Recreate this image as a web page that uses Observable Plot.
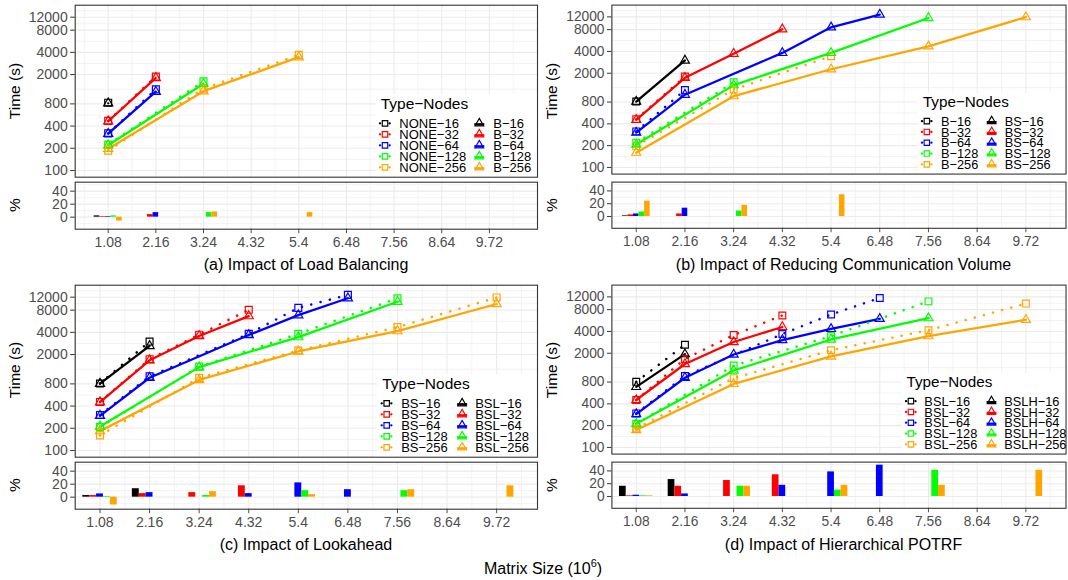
<!DOCTYPE html>
<html>
<head>
<meta charset="utf-8">
<script src="https://cdn.jsdelivr.net/npm/d3@7"></script>
<script src="https://cdn.jsdelivr.net/npm/@observablehq/plot@0.6"></script>
<style>
  html, body { margin: 0; padding: 0; background: #ffffff; }
  #root { position: relative; width: 1068px; height: 580px; overflow: hidden; font-family: "Liberation Sans", Arial, sans-serif; }
  .abs { position: absolute; }
  .lbl { position: absolute; white-space: nowrap; color: #000; transform: translate(-50%, -50%); }
  .rot { transform: translate(-50%, -50%) rotate(-90deg); }
</style>
</head>
<body>
<div id="root"></div>
<script>
// ---------------- data ----------------
const sizes = [1.08, 2.16, 3.24, 4.32, 5.4, 6.48, 7.56, 8.64, 9.72];
const sizeLabels = ["1.08", "2.16", "3.24", "4.32", "5.4", "6.48", "7.56", "8.64", "9.72"];
const nodes = [16, 32, 64, 128, 256];
const timeTicks = [100, 200, 400, 800, 2000, 4000, 8000, 12000];
const pctTicks = [0, 20, 40];

// execution time (s): rows = nodes (16..256), columns = matrix sizes; null = not run
const timeNONE = [
  [830],
  [470, 1880],
  [318, 1260],
  [225, null, 1620],
  [186, null, 1290, null, 3700]
];
const timeB = [
  [815],
  [465, 1800],
  [315, 1170],
  [220, null, 1500],
  [197, null, 1190, null, 3440]
];
const timeBS = [
  [810, 3000],
  [455, 1730, 3720, 8100],
  [303, 1010, null, 3820, 8600, 12900],
  [207, null, 1370, null, 3820, null, 11600],
  [160, null, 965, null, 2270, null, 4710, null, 11900]
];
const timeBSL = [
  [805, 2620],
  [452, 1670, 3570, 6650],
  [295, 970, null, 3680, 6850, 11600],
  [212, null, 1350, null, 3450, null, 10400],
  [183, null, 905, null, 2200, null, 4160, null, 9700]
];
const timeBSLH = [
  [686, 1943],
  [452, 1420, 2855, 4610],
  [289, 918, 1920, 3040, 4335, 5980],
  [212, null, 1154, null, 3100, null, 6100],
  [174, null, 754, null, 1805, null, 3444, null, 5800]
];

// improvement (%): rows = nodes, columns = matrix sizes
const pctLB = [
  [2],
  [1, 4],
  [1, 7],
  [2, null, 7],
  [-6, null, 8, null, 7]
];
const pctBS = [
  [1],
  [2.5, 4],
  [4, 13],
  [7, null, 8.5],
  [24, null, 17.5, null, 34]
];
const pctBSL = [
  [2.5, 13],
  [2.5, 5.5, 7, 17.5],
  [5, 7, null, 5.5, 22, 11.5],
  [1, null, 2.5, null, 10, null, 10],
  [-12, null, 8.5, null, 4, null, 11.5, null, 17.5]
];
const pctBSLH = [
  [16, 26.5],
  [1, 16, 25, 34],
  [2, 4, null, 17.5, 38.5, 49],
  [1, null, 16, null, 10, null, 41],
  [1, null, 16, null, 17.5, null, 17.5, null, 41]
];

const captions = [
  "(a) Impact of Load Balancing",
  "(b) Impact of Reducing Communication Volume",
  "(c) Impact of Lookahead",
  "(d) Impact of Hierarchical POTRF"
];
const typePairs = [["NONE", "B"], ["B", "BS"], ["BS", "BSL"], ["BSL", "BSLH"]];
const legendTitle = "Type\u2212Nodes";
const xTitle = "Matrix Size (10";
const yTitleTop = "Time (s)";
const yTitleBottom = "%";

// ---------------- style / layout ----------------
const FONT = '"Liberation Sans", Arial, sans-serif';
const colors = ["#000000", "#FF0000", "#0000FF", "#00FF00", "#FFA500"];
const GRID = "#EBEBEB";
const BORDER = "#333333";
const TICKTXT = "#4D4D4D";

const panels = [
  {time1: timeNONE, time2: timeB, pct: pctLB, col: 0, row: 0, xdom: [0.332, 10.81], barW: 0.127,
   leg: {title: 380.7, k1: 385, l1: 399.3, k2: 479.3, l2: 493.3}},
  {time1: timeB, time2: timeBS, pct: pctBS, col: 1, row: 0, xdom: [0.54, 10.61], barW: 0.123,
   leg: {title: 391.8, k1: 395.8, l1: 410.2, k2: 461.8, l2: 475.2}},
  {time1: timeBS, time2: timeBSL, pct: pctBSL, col: 0, row: 1, xdom: [0.54, 10.61], barW: 0.15,
   leg: {title: 382.2, k1: 386.7, l1: 401.2, k2: 462.1, l2: 475.2}},
  {time1: timeBSL, time2: timeBSLH, pct: pctBSLH, col: 1, row: 1, xdom: [0.54, 10.61], barW: 0.149,
   leg: {title: 375.1, k1: 379.6, l1: 393.3, k2: 461.6, l2: 474.7}}
];

const root = document.getElementById("root");

function flatten(matrix) {
  const out = [];
  matrix.forEach((row, i) => row.forEach((v, j) => {
    if (v != null) out.push({x: sizes[j], v, i});
  }));
  return out;
}

// minor grid (midpoints between majors, in transformed space)
const minorT = [];
for (let k = 0; k < timeTicks.length - 1; k++) minorT.push(Math.sqrt(timeTicks[k] * timeTicks[k + 1]));
minorT.push(timeTicks[timeTicks.length - 1] * Math.sqrt(timeTicks[timeTicks.length - 1] / timeTicks[timeTicks.length - 2]));
const minorX = [sizes[0] / 2, ...sizes.map(s => s + (sizes[1] - sizes[0]) / 2)];
const minorP = [-10, 10, 30, 50];

const W = 540, ML = 74.7, MR = 3;

function place(el, left, top) {
  const d = document.createElement("div");
  d.className = "abs";
  d.style.left = left + "px";
  d.style.top = top + "px";
  d.appendChild(el);
  root.appendChild(d);
}
function label(text, x, y, size, rotate, html) {
  const d = document.createElement("div");
  d.className = "lbl" + (rotate ? " rot" : "");
  d.style.left = x + "px";
  d.style.top = y + "px";
  d.style.fontSize = size + "px";
  if (html) d.innerHTML = html; else d.textContent = text;
  root.appendChild(d);
}

// y tick labels as a text mark (avoids log-format label thinning)
function yTickLabels(ticks) {
  return Plot.text(ticks, {y: d => d, text: d => String(d), frameAnchor: "left", textAnchor: "end",
    dx: -7.5, fill: TICKTXT, fontSize: 14});
}

panels.forEach((p, pi) => {
  const ox = p.col * 537.5, oy = p.row * 279.5;
  const s1 = flatten(p.time1), s2 = flatten(p.time2), bars = flatten(p.pct);
  const inX = v => v >= p.xdom[0] && v <= p.xdom[1];

  const top = Plot.plot({
    width: W, height: 180,
    marginLeft: ML, marginRight: MR, marginTop: 4.7, marginBottom: 3.3,
    style: {fontFamily: FONT, fontSize: "14px", background: "transparent", overflow: "visible"},
    x: {domain: p.xdom, axis: null},
    y: {type: "log", domain: [81, 17450]},
    marks: [
      Plot.ruleY(minorT, {stroke: GRID, strokeWidth: 0.6}),
      Plot.ruleY(timeTicks, {stroke: GRID, strokeWidth: 1.1}),
      Plot.ruleX(minorX.filter(inX), {stroke: GRID, strokeWidth: 0.6}),
      Plot.ruleX(sizes.filter(inX), {stroke: GRID, strokeWidth: 1.1}),
      Plot.line(s2, {x: "x", y: "v", z: "i", stroke: d => colors[d.i], strokeWidth: 2.3}),
      Plot.line(s1, {x: "x", y: "v", z: "i", stroke: d => colors[d.i], strokeWidth: 2.5,
        strokeDasharray: "0.1,9.5", strokeLinecap: "round"}),
      Plot.dot(s1, {x: "x", y: "v", symbol: "square", r: 3.9, stroke: d => colors[d.i], fill: "none", strokeWidth: 1.2}),
      Plot.dot(s2, {x: "x", y: "v", symbol: "triangle", r: 3.4, stroke: d => colors[d.i], fill: "none", strokeWidth: 1.2}),
      Plot.axisY({ticks: timeTicks, tickFormat: () => "", tickSize: 4.5, tickPadding: 3,
        color: BORDER, label: null}),
      yTickLabels(timeTicks),
      Plot.frame({stroke: BORDER, strokeWidth: 1.1})
    ]
  });

  // legend (inside the panel, white key box)
  const lg = d3.select(top).append("g").attr("font-family", FONT).attr("text-anchor", "start");
  const ty = 103.8;
  lg.append("rect").attr("x", p.leg.title - 5).attr("y", ty - 9.5)
    .attr("width", W - MR - 0.6 - (p.leg.title - 5)).attr("height", 176.7 - 0.6 - (ty - 9.5))
    .attr("fill", "#ffffff");
  lg.append("text").attr("x", p.leg.title).attr("y", ty).attr("dy", "0.36em")
    .attr("font-size", 15.5).attr("fill", "#000").text(legendTitle);
  nodes.forEach((n, i) => {
    const ry = ty + 19.5 + 11 * i;
    // type 1: square + dotted line
    lg.append("line").attr("x1", p.leg.k1 - 5).attr("x2", p.leg.k1 + 5).attr("y1", ry).attr("y2", ry)
      .attr("stroke", colors[i]).attr("stroke-width", 2.3).attr("stroke-dasharray", "0.1,9.5").attr("stroke-linecap", "round");
    lg.append("path").attr("d", d3.symbol(d3.symbolSquare, 30)()).attr("transform", `translate(${p.leg.k1},${ry})`)
      .attr("fill", "none").attr("stroke", colors[i]).attr("stroke-width", 1.2);
    lg.append("text").attr("x", p.leg.l1).attr("y", ry).attr("dy", "0.36em").attr("font-size", 13)
      .attr("fill", "#000").text(typePairs[pi][0] + "\u2212" + n);
    // type 2: triangle + solid line
    lg.append("line").attr("x1", p.leg.k2 - 5).attr("x2", p.leg.k2 + 5).attr("y1", ry + 1).attr("y2", ry + 1)
      .attr("stroke", colors[i]).attr("stroke-width", 2.3);
    lg.append("path").attr("d", d3.symbol(d3.symbolTriangle, 32)()).attr("transform", `translate(${p.leg.k2},${ry})`)
      .attr("fill", "none").attr("stroke", colors[i]).attr("stroke-width", 1.2);
    lg.append("text").attr("x", p.leg.l2).attr("y", ry).attr("dy", "0.36em").attr("font-size", 13)
      .attr("fill", "#000").text(typePairs[pi][1] + "\u2212" + n);
  });

  place(top, ox, oy);

  const bot = Plot.plot({
    width: W, height: 80,
    marginLeft: ML, marginRight: MR, marginTop: 3.7, marginBottom: 29.3,
    style: {fontFamily: FONT, fontSize: "14px", background: "transparent", overflow: "visible"},
    x: {domain: p.xdom},
    y: {domain: [-18.5, 53.8]},
    marks: [
      Plot.ruleY(minorP, {stroke: GRID, strokeWidth: 0.6}),
      Plot.ruleY(pctTicks, {stroke: GRID, strokeWidth: 1.1}),
      Plot.ruleX(minorX.filter(inX), {stroke: GRID, strokeWidth: 0.6}),
      Plot.ruleX(sizes.filter(inX), {stroke: GRID, strokeWidth: 1.1}),
      Plot.rect(bars, {
        x1: d => d.x + (d.i - 2.5) * p.barW,
        x2: d => d.x + (d.i - 1.5) * p.barW,
        y1: 0, y2: "v",
        fill: d => colors[d.i]
      }),
      Plot.axisY({ticks: pctTicks, tickFormat: () => "", tickSize: 4.5, tickPadding: 3,
        color: BORDER, label: null}),
      yTickLabels(pctTicks),
      Plot.axisX({ticks: sizes, tickFormat: d => sizeLabels[sizes.indexOf(d)], tickSize: 4.5, tickPadding: 3.6,
        fontSize: 14, color: TICKTXT, label: null}),
      Plot.frame({stroke: BORDER, strokeWidth: 1.1})
    ]
  });
  place(bot, ox, oy + 178);

  label(yTitleTop, ox + 14.5, oy + 90.7, 15.5, true);
  label(yTitleBottom, ox + 14.5, oy + 205.2, 15.5, true);
  label(captions[pi], ox + 306, oy + 265, 16, false);
});

label(null, 543, 568, 16, false, xTitle + '<sup style="font-size:11px;position:relative;top:-1px">6</sup>)');
</script>
</body>
</html>
